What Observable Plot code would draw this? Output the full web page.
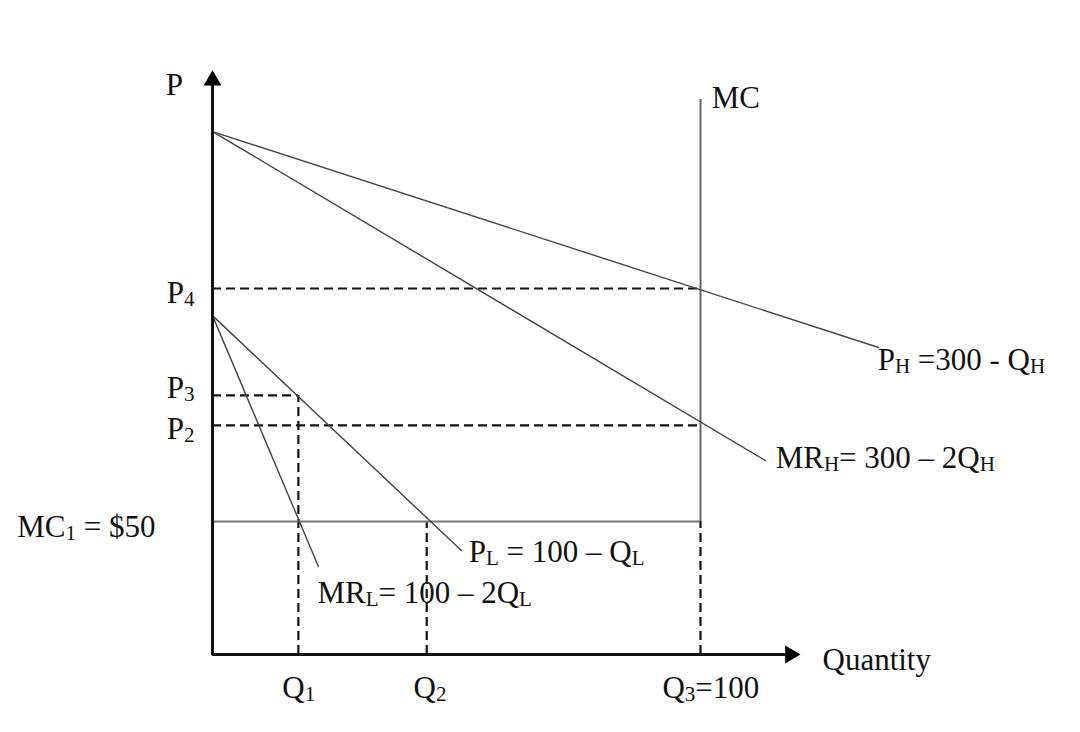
<!DOCTYPE html>
<html><head><meta charset="utf-8">
<script src="https://cdn.jsdelivr.net/npm/d3@7"></script>
<script src="https://cdn.jsdelivr.net/npm/@observablehq/plot@0.6"></script>
<style>html,body{margin:0;padding:0;background:#fff}</style>
</head><body><div id="chart"></div>
<script>
// ---- data (quantity q, price p; diagram units) ----
const demandH = [{q: 0, p: 196.6}, {q: 136.5, p: 115.4}];   // PH = 300 - QH
const mrH     = [{q: 0, p: 196.6}, {q: 113.3, p: 72.9}];    // MRH = 300 - 2QH
const demandL = [{q: 0, p: 127.4}, {q: 51.0, p: 39.1}];     // PL = 100 - QL
const mrL     = [{q: 0, p: 127.4}, {q: 21.7, p: 33.1}];     // MRL = 100 - 2QL
const mc1     = [{p: 50, q1: 0, q2: 100}];                  // MC1 = $50
const mcVertical = [{q: 100, p1: 50, p2: 208.6}];           // MC capacity
const priceGuides = [{name: "P4", p: 137.6, q: 100}, {name: "P3", p: 97.4, q: 17.6}, {name: "P2", p: 86.1, q: 100}];
const quantityGuides = [{name: "Q1", q: 17.6, p: 97.4}, {name: "Q2", q: 43.9, p: 50}, {name: "Q3", q: 100, p: 50}];
const axisEnds = {qMax: 118.4, pMax: 215.8};
const labels = [
  {text: "P", q: -9.6, p: 210.5},
  {text: "MC", q: 102.3, p: 205.6},
  {text: "P_{4}", q: -9.4, p: 132.0},
  {text: "P_{3}", q: -9.4, p: 96.6},
  {text: "P_{2}", q: -9.4, p: 81.2},
  {text: "MC_{1} = $50", q: -40.0, p: 44.0},
  {text: "P_{L} = 100 – Q_{L}", q: 52.5, p: 34.6},
  {text: "MR_{L}= 100 – 2Q_{L}", q: 21.5, p: 19.5},
  {text: "Q_{1}", q: 14.3, p: -16.5},
  {text: "Q_{2}", q: 41.2, p: -16.5},
  {text: "Q_{3}=100", q: 92.2, p: -16.5},
  {text: "Quantity", q: 125.0, p: -6.0},
  {text: "P_{H} =300 - Q_{H}", q: 136.3, p: 106.8},
  {text: "MR_{H}= 300 – 2Q_{H}", q: 115.4, p: 70.3}
];

const curveStyle = {x: "q", y: "p", stroke: "#444", strokeWidth: 1.4};
const dash = {stroke: "#111", strokeWidth: 2.2, strokeDasharray: "9,5"};

const svg = Plot.plot({
  width: 1080, height: 732,
  margin: 0,
  style: {background: "#fff", fontFamily: "'Liberation Serif', 'Times New Roman', serif"},
  x: {domain: [0, 100], range: [212, 700], axis: null},
  y: {domain: [0, 50], range: [654, 521], axis: null},
  marks: [
    // dashed guides
    Plot.ruleY(priceGuides, {y: "p", x1: 0, x2: "q", ...dash}),
    Plot.ruleX(quantityGuides, {x: "q", y1: 0, y2: "p", ...dash}),
    // cost curves
    Plot.ruleY(mc1, {y: "p", x1: "q1", x2: "q2", stroke: "#777", strokeWidth: 1.8}),
    Plot.ruleX(mcVertical, {x: "q", y1: "p1", y2: "p2", stroke: "#666", strokeWidth: 2}),
    // demand / MR curves
    Plot.line(demandH, curveStyle),
    Plot.line(mrH, curveStyle),
    Plot.line(demandL, curveStyle),
    Plot.line(mrL, curveStyle),
    // axes
    Plot.ruleX([0], {y1: -0.5, y2: axisEnds.pMax, stroke: "#111", strokeWidth: 3}),
    Plot.ruleY([0], {x1: 0, x2: axisEnds.qMax, stroke: "#111", strokeWidth: 3}),
    Plot.dot([{q: 0, p: axisEnds.pMax}], {x: "q", y: "p", symbol: "triangle", r: 6.6, fill: "#000", stroke: null}),
    Plot.dot([{q: axisEnds.qMax, p: 0}], {x: "q", y: "p", symbol: "triangle", r: 6.6, fill: "#000", stroke: null, rotate: 90}),
    // labels
    Plot.text(labels, {x: "q", y: "p", text: "text", textAnchor: "start", lineAnchor: "bottom", fontSize: 31, fill: "#111"})
  ]
});

// render subscripts written as _{...}
d3.select(svg).selectAll("text").each(function () {
  const s = this.textContent;
  if (!s.includes("_{")) return;
  const parts = s.split(/(_\{[^}]*\})/).filter(d => d.length);
  while (this.firstChild) this.removeChild(this.firstChild);
  let prevSub = false;
  for (const part of parts) {
    const t = document.createElementNS("http://www.w3.org/2000/svg", "tspan");
    if (part.startsWith("_{")) {
      t.textContent = part.slice(2, -1);
      t.setAttribute("font-size", 21);
      t.setAttribute("dy", 3);
      prevSub = true;
    } else {
      t.textContent = part;
      if (prevSub) t.setAttribute("dy", -3);
      prevSub = false;
    }
    this.appendChild(t);
  }
});

document.getElementById("chart").appendChild(svg);
</script>
</body></html>
